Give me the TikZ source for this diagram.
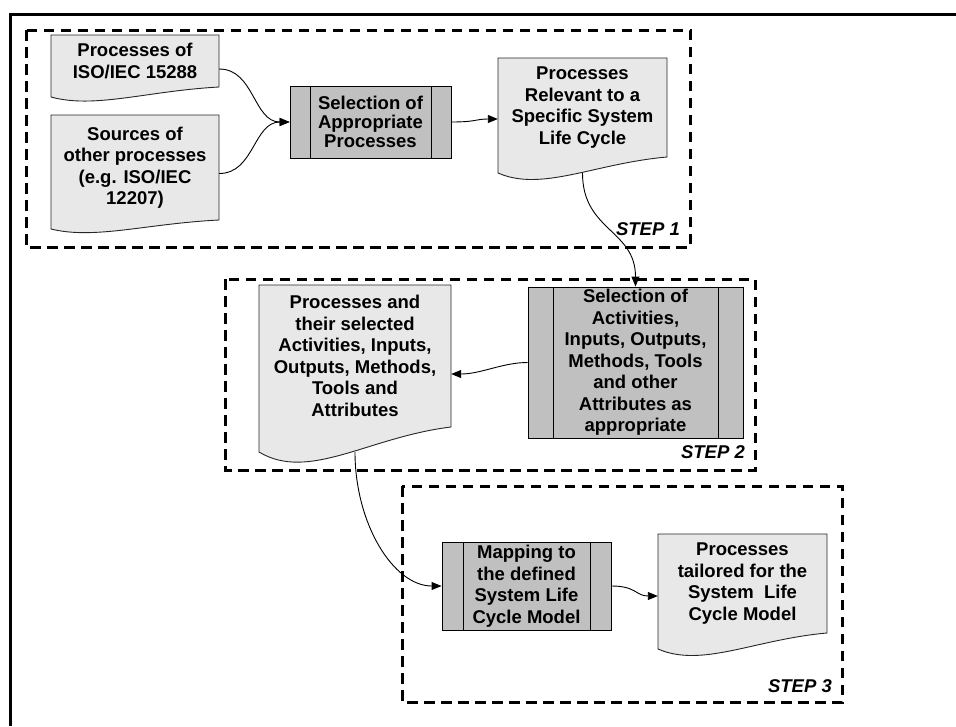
\documentclass[tikz,border=0pt]{standalone}
\usepackage{fontspec}
\setmainfont{Liberation Sans}
\usepackage{tikz}
\usetikzlibrary{arrows.meta, calc, positioning}
\definecolor{docgray}{HTML}{E8E8E8}
\definecolor{procgray}{HTML}{C0C0C0}
\newcommand{\boxfont}{\bfseries\fontsize{18.5}{21.5}\selectfont}
\tikzset{
  docbox/.style   = {draw=black!85, fill=docgray, line width=0.9pt},
  doctext/.style  = {align=center, inner sep=0pt, font=\boxfont},
  procbox/.style  = {draw, fill=procgray, line width=0.9pt, align=center,
                     inner sep=0pt, font=\boxfont,
                     path picture={
                       \draw[line width=0.9pt] ([xshift=#1]path picture bounding box.north west)
                         -- ([xshift=#1]path picture bounding box.south west);
                       \draw[line width=0.9pt] ([xshift=-#1]path picture bounding box.north east)
                         -- ([xshift=-#1]path picture bounding box.south east);}},
  procbox/.default = 20pt,
  stepframe/.style = {line width=3pt, dash pattern=on 10.5pt off 6.5pt},
  steplbl/.style  = {font=\bfseries\itshape\fontsize{18.5}{22}\selectfont,
                     anchor=base east, inner sep=0pt},
  conn/.style     = {-{Triangle[length=10pt,width=8pt]}, line width=0.9pt, black},
}
% document shape: name, x0, top, x1, right bottom, left bottom, text
\newcommand{\docshape}[7]{%
  \pgfmathsetmacro{\docw}{#4-#2}
  \pgfmathsetmacro{\doca}{#6-#5}
  \pgfmathsetmacro{\doch}{#5-#3}
  \filldraw[docbox] (#2,#3) -- (#4,#3) -- (#4,#5)
    .. controls ({#2+0.57*\docw},{#6-0.6*\doca}) and ({#2+0.26*\docw},{#6+1.2*\doca}) .. (#2,#6) -- cycle;
  \node[doctext, minimum width=\docw pt, minimum height=\doch pt] (#1)
    at ({(#2+#4)/2},{(#3+#5)/2}) {#7};
  \coordinate (#1 bot) at ({(#2+#4)/2},#6);
}

\begin{document}
\begin{tikzpicture}[x=1pt, y=-1pt]
  \useasboundingbox (0,0) rectangle (956,726);
  \draw[line width=3pt] (10,726) -- (10,14) -- (956,14);

  % step frames
  \draw[stepframe] (26,30) rectangle (690,247);
  \draw[stepframe] (225,279) rectangle (755,470);
  \draw[stepframe] (402,486) rectangle (842,702);
  \node[steplbl] (step1) at (680,235) {STEP 1};
  \node[steplbl] (step2) at (745,458) {STEP 2};
  \node[steplbl] (step3) at (832,692) {STEP 3};

  % documents
  \docshape{iso}{51}{35}{219}{87}{97}{Processes of\\ISO/IEC 15288}
  \docshape{other}{51}{115}{219}{220}{229}{Sources of\\other processes\\(e.g. ISO/IEC\\12207)}
  \docshape{relevant}{498}{58}{667}{157}{173}{Processes\\Relevant to a\\Specific System\\Life Cycle}
  \docshape{selected}{259}{285}{451}{427}{452}{Processes and\\their selected\\Activities, Inputs,\\Outputs, Methods,\\Tools and\\Attributes}
  \docshape{tailored}{658}{534}{827}{633}{649}{Processes\\tailored for the\\System~ Life\\Cycle Model}

  % processes
  \node[procbox, minimum width=161pt, minimum height=72pt,
        font=\bfseries\fontsize{18.5}{18.7}\selectfont] (selproc) at (370.5,122)
    {Selection of\\Appropriate\\Processes};
  \node[procbox=25pt, minimum width=215pt, minimum height=151pt] (selattr) at (635.5,362.5)
    {Selection of\\Activities,\\Inputs, Outputs,\\Methods, Tools\\and other\\Attributes as\\appropriate};
  \node[procbox=21pt, minimum width=169pt, minimum height=88pt] (mapping) at (526.5,586)
    {Mapping to\\the defined\\System Life\\Cycle Model};

  % connectors
  \draw[conn] ([yshift=-8pt]iso.east) .. controls +(35,0) and +(-36,0) .. (selproc.west);
  \draw[conn] ([yshift=-6pt]other.east) .. controls +(35,0) and +(-36,0) .. (selproc.west);
  \draw[conn] (selproc.east) .. controls +(25,0) and +(-22,0) .. ([yshift=-11.5pt]relevant.west);
  \draw[conn] (relevant bot) .. controls +(0,58) and +(0,-57) .. (selattr.north);
  \draw[conn] (selattr.west) .. controls +(-25,0) and +(30,0) .. ([yshift=-18pt]selected.east);
  \draw[conn] (selected bot) .. controls +(0,72) and +(-48,0) .. (mapping.west);
  \draw[conn] (mapping.east) .. controls +(25,0) and +(-22,0) .. ([yshift=-12.5pt]tailored.west);
\end{tikzpicture}
\end{document}
